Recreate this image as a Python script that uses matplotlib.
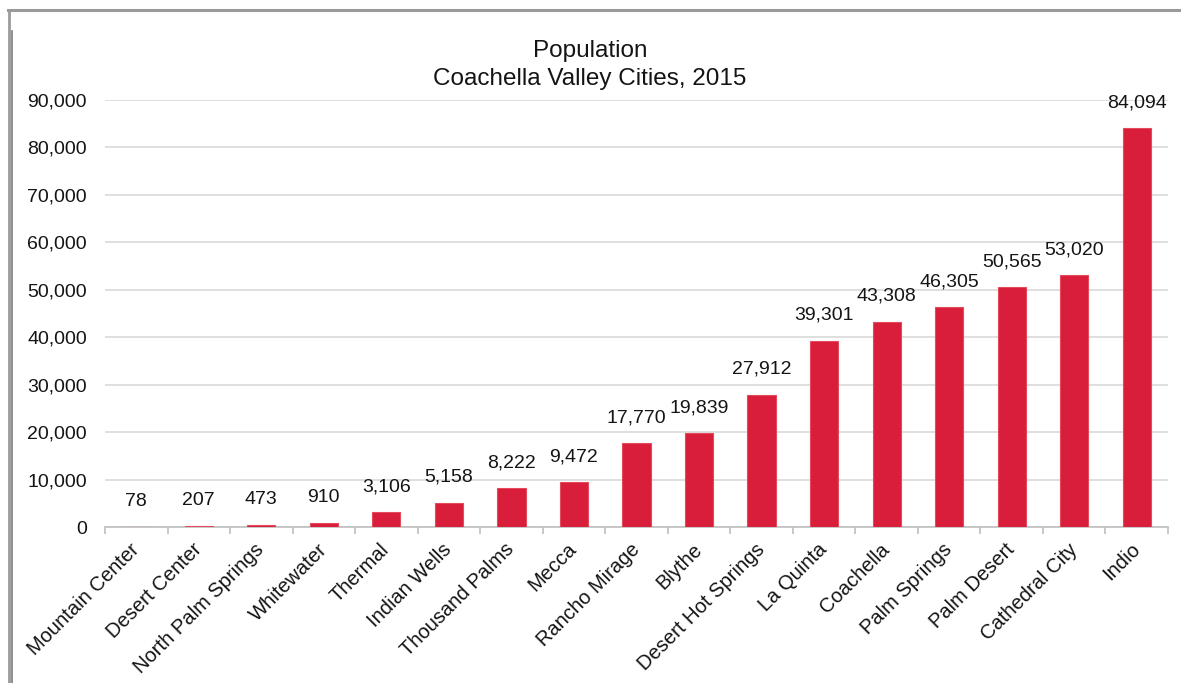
import matplotlib.pyplot as plt
from matplotlib.lines import Line2D
from matplotlib.ticker import FuncFormatter, FixedLocator
import numpy as np

plt.rcParams['font.family'] = ['Liberation Sans', 'DejaVu Sans']

cities = ['Mountain Center', 'Desert Center', 'North Palm Springs', 'Whitewater',
          'Thermal', 'Indian Wells', 'Thousand Palms', 'Mecca', 'Rancho Mirage',
          'Blythe', 'Desert Hot Springs', 'La Quinta', 'Coachella', 'Palm Springs',
          'Palm Desert', 'Cathedral City', 'Indio']
population = [78, 207, 473, 910, 3106, 5158, 8222, 9472, 17770, 19839, 27912,
              39301, 43308, 46305, 50565, 53020, 84094]
y_ticks = [0, 10000, 20000, 30000, 40000, 50000, 60000, 70000, 80000, 90000]

fig = plt.figure(figsize=(11.81, 6.83), dpi=100)
ax = fig.add_axes([0.0889, 0.2284, 0.9001, 0.6252])

x = np.arange(len(cities))
ax.bar(x, population, width=0.45, color='#D81E3A', edgecolor='#E44A5C',
       linewidth=0.8, zorder=3)

for xi, v in zip(x, population):
    ax.annotate(f'{v:,}', (xi, v), xytext=(0, 12), textcoords='offset points',
                ha='center', va='bottom', fontsize=14, color='#141414')

ax.set_xlim(-0.5, len(cities) - 0.5)
ax.set_ylim(0, 90000)
ax.set_yticks(y_ticks)
ax.yaxis.set_major_formatter(FuncFormatter(lambda v, p: f'{int(v):,}'))
ax.grid(axis='y', color='#D9D9D9', linewidth=1.2, zorder=0)

ax.set_xticks(x)
ax.set_xticklabels(cities, rotation=45, ha='right', va='center',
                   rotation_mode='anchor', fontsize=14.5, color='#141414')
ax.xaxis.set_minor_locator(FixedLocator(np.arange(-0.5, len(cities), 1)))
ax.tick_params(axis='x', which='major', length=0, pad=14)
ax.tick_params(axis='x', which='minor', length=5, color='#BFBFBF', width=1.2)
ax.tick_params(axis='y', length=0, pad=13, labelsize=14, labelcolor='#141414')

for side in ['top', 'right', 'left']:
    ax.spines[side].set_visible(False)
ax.spines['bottom'].set_color('#BFBFBF')
ax.spines['bottom'].set_linewidth(1.2)

fig.text(0.4996, 0.925, 'Population', ha='center', va='center', fontsize=17.5,
         color='#141414')
fig.text(0.4996, 0.884, 'Coachella Valley Cities, 2015', ha='center', va='center',
         fontsize=17.5, color='#141414')

# gray frame along the top and left edge
fig.add_artist(Line2D([0.007, 1.0], [0.985, 0.985], transform=fig.transFigure,
                      color='#9A9A9A', linewidth=2.2))
fig.add_artist(Line2D([0.008, 0.008], [0.0, 0.985], transform=fig.transFigure,
                      color='#9A9A9A', linewidth=2.0))
fig.add_artist(Line2D([0.0105, 0.0105], [0.0, 0.955], transform=fig.transFigure,
                      color='#7A7A7A', linewidth=1.2))

fig.savefig('out.png', dpi=100, facecolor='white')
